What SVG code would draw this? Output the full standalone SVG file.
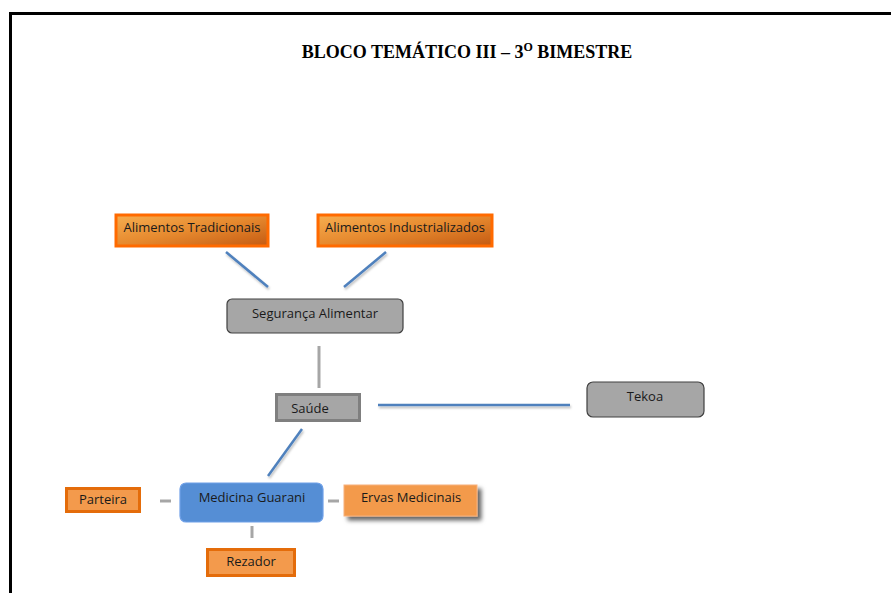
<svg xmlns="http://www.w3.org/2000/svg" width="891" height="593" viewBox="0 0 891 593">
<defs>
<linearGradient id="og" x1="0" y1="0" x2="1" y2="1">
<stop offset="0" stop-color="#F6AE50"/>
<stop offset="0.5" stop-color="#E6892E"/>
<stop offset="1" stop-color="#C45A12"/>
</linearGradient>
<filter id="sh" x="-10%" y="-20%" width="130%" height="160%">
<feDropShadow dx="4" dy="4" stdDeviation="2" flood-color="#000" flood-opacity="0.6"/>
</filter>
<filter id="lsh" filterUnits="userSpaceOnUse" x="0" y="0" width="891" height="593">
<feDropShadow dx="1" dy="2" stdDeviation="1" flood-color="#000" flood-opacity="0.25"/>
</filter>
</defs>
<style>
.t{font-family:"Open Sans","Liberation Sans",sans-serif;font-size:13px;fill:#1a1a1a;text-anchor:middle}
.blue{stroke:#4F81BD;stroke-width:2.5;fill:none}
.gray{stroke:#A6A6A6;stroke-width:3;fill:none}
.alim{fill:url(#og);stroke:#FF6A00;stroke-width:3}
.or{fill:#F39A4C;stroke:#E46C0A;stroke-width:3}
.gbox{fill:#A6A6A6;stroke:#404040;stroke-width:1.2}
</style>
<rect width="891" height="593" fill="#fff"/>
<path d="M10.5 593 V13.5 H891" fill="none" stroke="#000" stroke-width="3"/>
<text x="467" y="58" font-family="Liberation Serif,serif" font-weight="bold" font-size="18" text-anchor="middle" fill="#000">BLOCO TEMÁTICO III – 3<tspan dy="-7" font-size="12">O</tspan><tspan dy="7"> BIMESTRE</tspan></text>
<g id="connectors">
<line class="blue" x1="226" y1="252" x2="268" y2="287" filter="url(#lsh)"/>
<line class="blue" x1="386" y1="252" x2="344" y2="287" filter="url(#lsh)"/>
<line class="gray" x1="319" y1="346" x2="319" y2="388"/>
<line class="blue" x1="378" y1="405" x2="570" y2="405" filter="url(#lsh)"/>
<line class="blue" x1="302" y1="429" x2="268" y2="476" filter="url(#lsh)"/>
<line class="gray" x1="160" y1="501" x2="171" y2="501"/>
<line class="gray" x1="328" y1="501" x2="339" y2="501"/>
<line class="gray" x1="252" y1="526" x2="252" y2="538"/>
</g>
<g id="alimentos-tradicionais">
<rect class="alim" x="116" y="215" width="152" height="31"/>
<text class="t" x="192" y="232">Alimentos Tradicionais</text>
</g>
<g id="alimentos-industrializados">
<rect class="alim" x="318" y="215" width="174" height="31"/>
<text class="t" x="405" y="232">Alimentos Industrializados</text>
</g>
<g id="seguranca-alimentar">
<rect class="gbox" x="227" y="299" width="176" height="34" rx="5"/>
<text class="t" x="315" y="318">Segurança Alimentar</text>
</g>
<g id="saude">
<rect x="276.5" y="394.5" width="83" height="26" fill="#A6A6A6" stroke="#7F7F7F" stroke-width="3"/>
<text class="t" x="310" y="413" font-size="14">Saúde</text>
</g>
<g id="tekoa">
<rect class="gbox" x="587" y="382" width="117" height="35" rx="6"/>
<text class="t" x="645" y="401">Tekoa</text>
</g>
<g id="medicina-guarani">
<rect x="180" y="483" width="143" height="39" rx="6" fill="#558ED5" stroke="#6FA0E8" stroke-width="1.2"/>
<text class="t" x="252" y="502">Medicina Guarani</text>
</g>
<g id="parteira">
<rect class="or" x="66.5" y="488.5" width="73" height="23"/>
<text class="t" x="103" y="504">Parteira</text>
</g>
<g id="ervas-medicinais">
<rect x="344" y="485" width="133" height="31" fill="#F39A4C" stroke="#F7B07A" stroke-width="1" filter="url(#sh)"/>
<text class="t" x="411" y="502">Ervas Medicinais</text>
</g>
<g id="rezador">
<rect class="or" x="207.5" y="549.5" width="87" height="26"/>
<text class="t" x="251" y="566">Rezador</text>
</g>
</svg>
